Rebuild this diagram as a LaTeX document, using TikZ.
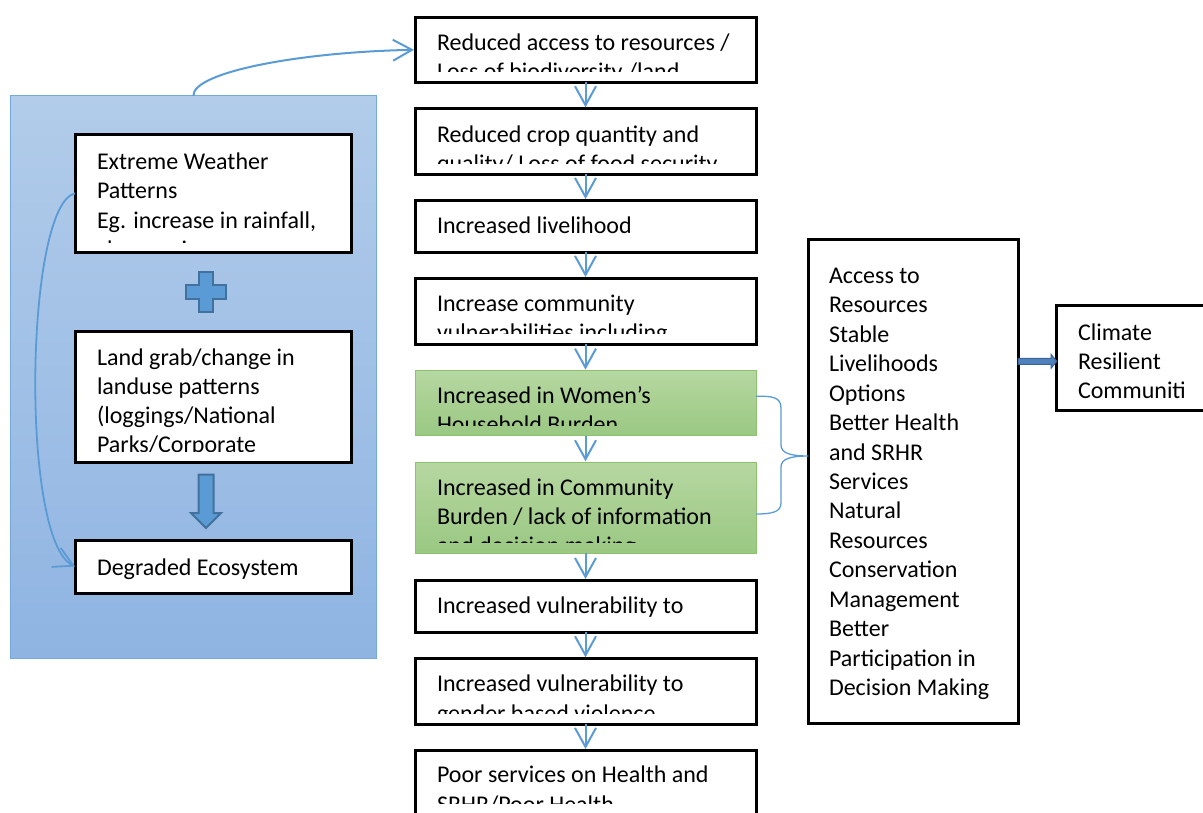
\documentclass[tikz,border=0pt]{standalone}
\usepackage{fontspec}
\setmainfont{Carlito}
\usetikzlibrary{arrows.meta}
\definecolor{lnblue}{HTML}{5B9BD5}
\definecolor{bluetop}{HTML}{B2CCEA}
\definecolor{bluebot}{HTML}{8FB4E2}
\definecolor{blueedge}{HTML}{74A9E0}
\definecolor{greentop}{HTML}{B6D7A1}
\definecolor{greenbot}{HTML}{9AC882}
\definecolor{greenedge}{HTML}{8CC16E}
\definecolor{blockedge}{HTML}{41719C}
\definecolor{arrfill}{HTML}{4F81BD}
\definecolor{arredge}{HTML}{3A6497}
\newcommand\ms{\rule{0pt}{20pt}}
\tikzset{
  plainbox/.style={draw=black, line width=3pt, fill=white, anchor=north west, inner sep=0pt, outer sep=0pt},
  greenbox/.style={draw=greenedge, line width=1pt, top color=greentop, bottom color=greenbot, anchor=north west, inner sep=0pt, outer sep=0pt},
  txt/.style={anchor=north west, inner sep=0pt, outer sep=0pt, align=left, font=\fontsize{24}{29.3}\selectfont},
  flow/.style={draw=lnblue, line width=2pt, -{Straight Barb[length=19pt,width=21pt]}},
  blockshape/.style={fill=lnblue, draw=blockedge, line width=2pt, line join=miter},
}
\begin{document}
\begin{tikzpicture}[x=1pt,y=-1pt]
\useasboundingbox (0,0) rectangle (1203,812);
% left panel
\node[anchor=north west, inner sep=0pt, outer sep=0pt, minimum width=366.7pt, minimum height=562.6pt,
      draw=blueedge, line width=1pt, top color=bluetop, bottom color=bluebot] (blue) at (10,95.7) {};
% left boxes
\node[plainbox, minimum width=276pt, minimum height=118pt] (e1) at (75,134.3) {};
\begin{scope}\clip (78,137) rectangle (348,242);
\node[txt] (te1) at (97,149.5) {\ms Extreme Weather\\\ms Patterns\\\ms Eg. increase in rainfall,\\\ms changes in};
\end{scope}
\node[plainbox, minimum width=276pt, minimum height=131.3pt] (e2) at (75,331) {};
\begin{scope}\clip (78,334) rectangle (348,451.5);
\node[txt] (te2) at (97,345) {\ms Land grab/change in\\\ms landuse patterns\\\ms (loggings/National\\\ms Parks/Corporate};
\end{scope}
\node[plainbox, minimum width=276pt, minimum height=53pt] (e3) at (75,540) {};
\node[txt] (te3) at (97,555) {\ms Degraded Ecosystem};
% plus sign and block arrow
\draw[blockshape] (199.3,272.3) -- (213.3,272.3) -- (213.3,285) -- (226,285) -- (226,299) -- (213.3,299)
  -- (213.3,312.3) -- (199.3,312.3) -- (199.3,299) -- (186,299) -- (186,285) -- (199.3,285) -- cycle;
\draw[blockshape] (198.5,474.5) -- (213.5,474.5) -- (213.5,513) -- (221,513) -- (206,528) -- (191,513) -- (198.5,513) -- cycle;
% middle boxes
\node[plainbox, minimum width=341pt, minimum height=65pt] (b1) at (415,17.3) {};
\begin{scope}\clip (418,20) rectangle (753,71.8);
\node[txt] (t1) at (437,30.6) {\ms Reduced access to resources /\\\ms Loss of biodiversity /land};
\end{scope}
\node[plainbox, minimum width=341pt, minimum height=65.7pt] (b2) at (415,108.3) {};
\begin{scope}\clip (418,111) rectangle (753,163.5);
\node[txt] (t2) at (437,122.2) {\ms Reduced crop quantity and\\\ms quality/ Loss of food security};
\end{scope}
\node[plainbox, minimum width=341pt, minimum height=52.3pt] (b3) at (415,200) {};
\node[txt] (t3) at (437,213.3) {\ms Increased livelihood};
\node[plainbox, minimum width=341pt, minimum height=66pt] (b4) at (415,278) {};
\begin{scope}\clip (418,281) rectangle (753,333.5);
\node[txt] (t4) at (437,291.3) {\ms Increase community\\\ms vulnerabilities including};
\end{scope}
\node[greenbox, minimum width=341pt, minimum height=65pt] (b5) at (415,370.7) {};
\begin{scope}\clip (418,373) rectangle (753,425.2);
\node[txt] (t5) at (437,383.3) {\ms Increased in Women’s\\\ms Household Burden};
\end{scope}
\node[greenbox, minimum width=341pt, minimum height=91pt] (b6) at (415,462.3) {};
\begin{scope}\clip (418,465) rectangle (753,542.8);
\node[txt] (t6) at (437,475) {\ms Increased in Community\\\ms Burden / lack of information\\\ms and decision making};
\end{scope}
\node[plainbox, minimum width=341pt, minimum height=52.3pt] (b7) at (415,580) {};
\node[txt] (t7) at (437,593.3) {\ms Increased vulnerability to};
\node[plainbox, minimum width=341pt, minimum height=65.7pt] (b8) at (415,658.3) {};
\begin{scope}\clip (418,661) rectangle (753,713.5);
\node[txt] (t8) at (437,671.7) {\ms Increased vulnerability to\\\ms gender based violence};
\end{scope}
\node[plainbox, minimum width=341pt, minimum height=64pt] (b9) at (415,750) {};
\begin{scope}\clip (418,753) rectangle (753,803);
\node[txt] (t9) at (437,762.7) {\ms Poor services on Health and\\\ms SRHR/Poor Health};
\end{scope}
% right boxes
\node[plainbox, minimum width=209.7pt, minimum height=484pt] (r) at (808.3,239.3) {};
\node[txt, font=\fontsize{24}{29.45}\selectfont] (tr) at (829,263.3) {\ms Access to\\\ms Resources\\\ms Stable\\\ms Livelihoods\\\ms Options\\\ms Better Health\\\ms and SRHR\\\ms Services\\\ms Natural\\\ms Resources\\\ms Conservation\\\ms Management\\\ms Better\\\ms Participation in\\\ms Decision Making};
\node[plainbox, minimum width=160pt, minimum height=105pt] (c) at (1056.7,305) {};
\begin{scope}\clip (1060,308) rectangle (1183.5,400);
\node[txt] (tc) at (1078,320) {\ms Climate\\\ms Resilient\\\ms Communities};
\end{scope}
% arrows in middle column
\draw[flow, shorten >=1pt] (b1.south) -- (b2.north);
\draw[flow, shorten >=1pt] (b2.south) -- (b3.north);
\draw[flow, shorten >=1pt] (b3.south) -- (b4.north);
\draw[flow, shorten >=1pt] (b4.south) -- (b5.north);
\draw[flow, shorten >=1pt] (b5.south) -- (b6.north);
\draw[flow, shorten >=1pt] (b6.south) -- (b7.north);
\draw[flow, shorten >=1pt] (b7.south) -- (b8.north);
\draw[flow, shorten >=1pt] (b8.south) -- (b9.north);
% curved connectors
\draw[flow, shorten >=1pt] (blue.north) .. controls (193,72) and (300,52) .. (b1.west);
\draw[flow, line width=1.8pt] (e1.west) .. controls (25,205) and (20,540) .. (e3.west);
% brace
\coordinate (bs) at ([yshift=7pt]b5.east);
\coordinate (be) at ([yshift=-6.2pt]b6.east);
\coordinate (bt) at (808.3,456);
\draw[lnblue, line width=1.3pt] (bs) .. controls (772,396) and (781,397) .. (781,408) -- (781,445)
  .. controls (781,453) and (790,456) .. (bt) .. controls (790,456) and (781,459) .. (781,467)
  -- (781,503) .. controls (781,512) and (772,514) .. (be);
% block arrow to climate box
\draw[fill=arrfill, draw=arredge, line width=1pt] (r.east |- 0,358.3) -- (1051,358.3) -- (1051,354.3) -- (c.west |- 0,361.3)
  -- (1051,368.3) -- (1051,364.3) -- (r.east |- 0,364.3) -- cycle;
\end{tikzpicture}
\end{document}
